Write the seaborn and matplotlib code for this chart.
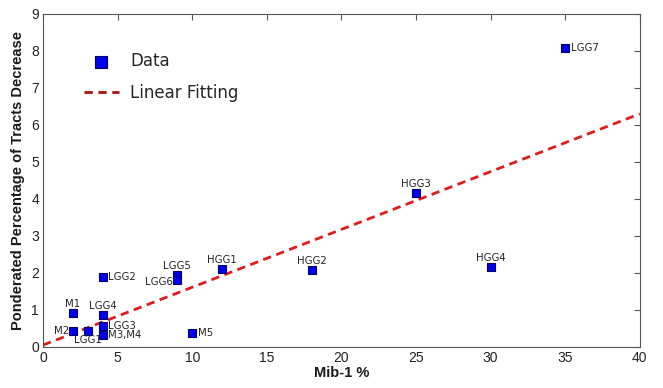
import matplotlib
matplotlib.use("Agg")
import matplotlib.pyplot as plt
import seaborn as sns
import pandas as pd

labels = ["M1", "M2", "LGG1", "LGG2", "LGG4", "LGG3", "M3,M4", "M5",
          "LGG5", "LGG6", "HGG1", "HGG2", "HGG3", "HGG4", "LGG7"]
mib1 = [2, 2, 3, 4, 4, 4, 4, 10, 9, 9, 12, 18, 25, 30, 35]
decrease = [0.92, 0.44, 0.44, 1.88, 0.86, 0.57, 0.32, 0.38,
            1.93, 1.80, 2.10, 2.08, 4.16, 2.16, 8.08]
fit_x = [0, 40]
fit_y = [0.05, 6.30]

# label placement: (dx points, dy points, ha, va)
offsets = {
    "M1": (0, 3, "center", "bottom"),
    "M2": (-3, 0, "right", "center"),
    "LGG1": (0, -3, "center", "top"),
    "LGG2": (4, 0, "left", "center"),
    "LGG4": (0, 3, "center", "bottom"),
    "LGG3": (4, 0, "left", "center"),
    "M3,M4": (4, 0, "left", "center"),
    "M5": (4, 0, "left", "center"),
    "LGG5": (0, 3, "center", "bottom"),
    "LGG6": (-3, -1, "right", "center"),
    "HGG1": (0, 3, "center", "bottom"),
    "HGG2": (0, 3, "center", "bottom"),
    "HGG3": (0, 3, "center", "bottom"),
    "HGG4": (0, 3, "center", "bottom"),
    "LGG7": (4, 0, "left", "center"),
}

sns.set_style("white")
plt.rcParams['font.family'] = ['DejaVu Sans']

df = pd.DataFrame({"x": mib1, "y": decrease, "label": labels})
fit = pd.DataFrame({"x": fit_x, "y": fit_y})

fig = plt.figure(figsize=(6.63, 3.88), dpi=100)
ax = fig.add_axes([0.065, 0.106, 0.9, 0.858])

sns.lineplot(data=fit, x="x", y="y", ax=ax, color="#dd1c1c", lw=2,
             linestyle=(0, (3, 2)), label="Linear Fitting", zorder=2)
sns.scatterplot(data=df, x="x", y="y", ax=ax, marker="s", s=36,
                color="#0000ee", edgecolor="#00006a", linewidth=0.8,
                label="Data", zorder=3)

for lab, x, y in zip(labels, mib1, decrease):
    dx, dy, ha, va = offsets[lab]
    ax.annotate(lab, (x, y), xytext=(dx, dy), textcoords="offset points",
                ha=ha, va=va, fontsize=7.3, color="#222222")

ax.set_xlim(0, 40)
ax.set_ylim(0, 9)
ax.set_xticks(range(0, 41, 5))
ax.set_yticks(range(0, 10))
ax.tick_params(direction="in", top=True, right=True, length=4,
               labelsize=10, color="#555555", labelcolor="#222222", pad=3)
for t in ax.get_xticklabels() + ax.get_yticklabels():
    t.set_family("Liberation Sans")
for sp in ax.spines.values():
    sp.set_color("#555555")
    sp.set_linewidth(0.8)

ax.set_xlabel("Mib-1 %", fontsize=10.5, color="#1a1a1a", labelpad=1,
              family="Liberation Sans", fontweight="bold")
ax.set_ylabel("Ponderated Percentage of Tracts Decrease", fontsize=10.5,
              color="#1a1a1a", labelpad=4, family="Liberation Sans",
              fontweight="bold")

h, l = ax.get_legend_handles_labels()
order = [l.index("Data"), l.index("Linear Fitting")]
leg = ax.legend([h[i] for i in order], [l[i] for i in order],
                loc="upper left", bbox_to_anchor=(0.043, 0.93), frameon=False,
                fontsize=12, markerscale=1.4, handlelength=2.1,
                labelspacing=0.8, handletextpad=0.7)
leg.legend_handles[1].set_color("#b01010")

fig.savefig("out.png", dpi=100)
